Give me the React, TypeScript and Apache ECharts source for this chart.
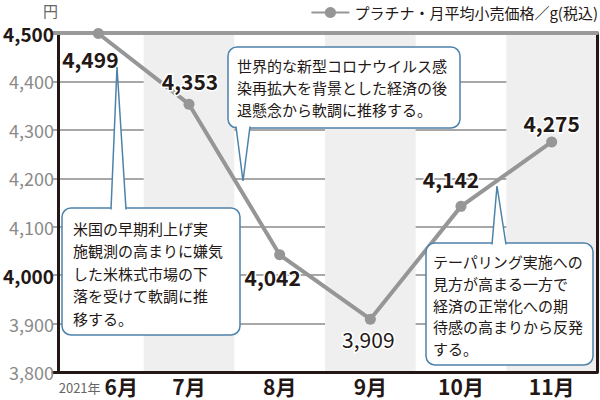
import { useEffect, useRef } from 'react'
import * as echarts from 'echarts'

const FONT = '"Noto Sans CJK JP", "Noto Sans", sans-serif'
const INK = '#231815'
const BLUE = '#4d83aa'
const LINE_GRAY = '#969696'

// データ
const months = ['6月', '7月', '8月', '9月', '10月', '11月']
const prices = [4499, 4353, 4042, 3909, 4142, 4275]
const seriesName = 'プラチナ・月平均小売価格／g(税込)'
const startYear = '2021年'
const yMin = 3800
const yMax = 4500
const yStep = 100
const boldTicks = [4000, 4500]

const noteTexts = [
  '米国の早期利上げ実\n施観測の高まりに嫌気\nした米株式市場の下\n落を受けて軟調に推\n移する。',
  '世界的な新型コロナウイルス感\n染再拡大を背景とした経済の後\n退懸念から軟調に推移する。',
  'テーパリング実施への\n見方が高まる一方で\n経済の正常化への期\n待感の高まりから反発\nする。'
]

// ラベルの位置（点からのずれ）
const labelOffsets = [[-8, 26], [1, -23], [-7, 22], [-2, 20], [-10, -27], [0, -19]]

// 吹き出しのレイアウト
const noteLayouts = [
  { x: 62, y: 208, w: 178, h: 127, s1: 111, s2: 126, tipX: 117, tipY: 67, baseY: 209.5, tx: 73, ty: 217, lh: 22.5 },
  { x: 228, y: 47, w: 232, h: 81, s1: 236, s2: 250, tipX: 243, tipY: 181, baseY: 126.5, tx: 237, ty: 54, lh: 22 },
  { x: 426, y: 243, w: 167, h: 122, s1: 492, s2: 506, tipX: 497, tipY: 186, baseY: 244.5, tx: 433, ty: 251, lh: 21.6 }
]

function callout(text: string, l: typeof noteLayouts[number]) {
  const pts = [[l.s1, l.baseY], [l.tipX, l.tipY], [l.s2, l.baseY]]
  return [
    {
      type: 'rect',
      z: 10,
      shape: { x: l.x, y: l.y, width: l.w, height: l.h, r: 9 },
      style: { fill: '#fff', stroke: BLUE, lineWidth: 1.5 }
    },
    { type: 'polygon', z: 11, shape: { points: pts }, style: { fill: '#fff' } },
    {
      type: 'polyline',
      z: 12,
      shape: { points: pts },
      style: { stroke: BLUE, lineWidth: 1.5, fill: null }
    },
    {
      type: 'text',
      z: 12,
      style: {
        text,
        x: l.tx,
        y: l.ty,
        fill: INK,
        fontSize: 15,
        fontFamily: FONT,
        lineHeight: l.lh
      }
    }
  ]
}

export default function App() {
  const chartRef = useRef<HTMLDivElement>(null)

  useEffect(() => {
    if (!chartRef.current) return
    document.body.style.margin = '0'
    const chart = echarts.init(chartRef.current, null, { renderer: 'svg' })

    const fmt = (v: number) => v.toLocaleString('en-US')

    const option: echarts.EChartsOption = {
      animation: false,
      textStyle: { fontFamily: FONT },
      grid: { left: 52, right: 3, top: 33, bottom: 28 },
      legend: {
        right: 2,
        top: 5,
        padding: 0,
        itemWidth: 38,
        itemHeight: 14,
        textStyle: { fontSize: 15, color: INK, fontFamily: FONT },
        data: [seriesName]
      },
      xAxis: [
        {
          type: 'category',
          data: months,
          boundaryGap: true,
          axisLine: { lineStyle: { color: INK, width: 3 } },
          axisTick: { show: false },
          axisLabel: {
            interval: 0,
            margin: 3,
            formatter: (v: string, i: number) =>
              i === 0 ? `{y|${startYear}}{m|${v}}` : `{m|${v}}`,
            rich: {
              y: { fontSize: 13, color: '#666', fontFamily: FONT, padding: [4, 4, 0, 0] },
              m: { fontSize: 21, fontWeight: 'bold', color: INK, fontFamily: FONT }
            }
          },
          splitArea: {
            show: true,
            interval: 0,
            areaStyle: { color: ['rgba(255,255,255,0)', '#efefef'] }
          }
        },
        {
          type: 'category',
          data: months,
          position: 'top',
          axisLine: { lineStyle: { color: '#9a9a9a', width: 4 } },
          axisTick: { show: false },
          axisLabel: { show: false }
        }
      ],
      yAxis: [
        {
          type: 'value',
          min: yMin,
          max: yMax,
          interval: yStep,
          offset: -5,
          name: '円',
          nameLocation: 'end',
          nameGap: 15,
          nameTextStyle: { color: '#666', fontSize: 15, align: 'right', fontFamily: FONT },
          axisLine: { show: true, lineStyle: { color: INK, width: 3 } },
          axisTick: { show: false },
          axisLabel: {
            margin: 4,
            formatter: (v: number) =>
              boldTicks.includes(v) ? `{b|${fmt(v)}}` : `{n|${fmt(v)}}`,
            rich: {
              b: { fontSize: 19, fontWeight: 'bold', color: INK, fontFamily: FONT },
              n: { fontSize: 18, color: '#8a8a8a', fontFamily: FONT }
            }
          },
          splitLine: { lineStyle: { color: '#a8a8a8', width: 2 } }
        },
        {
          type: 'value',
          min: yMin,
          max: yMax,
          interval: yStep,
          position: 'right',
          axisLine: { show: true, lineStyle: { color: INK, width: 3 } },
          axisTick: { show: false },
          axisLabel: { show: false },
          splitLine: { show: false }
        }
      ],
      series: [
        {
          name: seriesName,
          type: 'line',
          z: 5,
          symbol: 'circle',
          symbolSize: 11,
          itemStyle: { color: LINE_GRAY },
          lineStyle: { color: LINE_GRAY, width: 4 },
          label: {
            show: true,
            position: 'inside',
            align: 'center',
            verticalAlign: 'middle',
            fontSize: 21,
            fontWeight: 'bold',
            color: INK,
            fontFamily: FONT,
            textBorderColor: '#fff',
            textBorderWidth: 3,
            formatter: (p: any) => fmt(p.value)
          },
          data: prices.map((v, i) => ({
            value: v,
            label: {
              offset: labelOffsets[i],
              fontWeight: i === 3 ? 'normal' : 'bold'
            }
          }))
        }
      ],
      graphic: noteTexts.flatMap((t, i) => callout(t, noteLayouts[i])) as any
    }

    chart.setOption(option)

    return () => {
      chart.dispose()
    }
  }, [])

  return (
    <div
      ref={chartRef}
      style={{ position: 'absolute', left: 0, top: 0, width: 600, height: 400 }}
    />
  )
}
